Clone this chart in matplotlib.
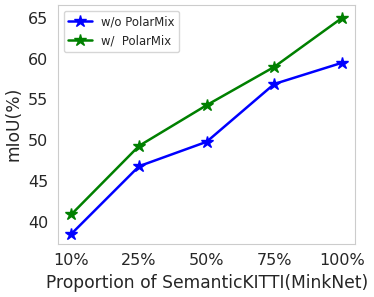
import matplotlib
matplotlib.use("Agg")
import matplotlib.pyplot as plt
import seaborn as sns

labels = ["10%", "25%", "50%", "75%", "100%"]
wo_polarmix = [38.5, 46.8, 49.8, 56.9, 59.5]
w_polarmix = [40.9, 49.3, 54.3, 59.0, 65.0]

sns.set_style("whitegrid")
plt.rcParams['font.family'] = ['DejaVu Sans']

fig, ax = plt.subplots(figsize=(3.74, 2.97), dpi=100)
x = range(len(labels))
ax.plot(x, wo_polarmix, color="blue", marker="*", markersize=9, linewidth=1.8, label="w/o PolarMix")
ax.plot(x, w_polarmix, color="green", marker="*", markersize=9, linewidth=1.8, label="w/  PolarMix")
ax.set_xticks(list(x))
ax.set_xticklabels(labels)
ax.set_xlim(-0.2, 4.2)
ax.set_ylim(37.3, 66.6)
ax.set_yticks([40, 45, 50, 55, 60, 65])
ax.grid(False)
ax.tick_params(labelsize=11.5)
ax.set_xlabel("Proportion of SemanticKITTI(MinkNet)", fontsize=12.3)
ax.set_ylabel("mIoU(%)", fontsize=12.3)
ax.legend(loc="upper left", fontsize=8.4)
fig.subplots_adjust(left=0.155, right=0.95, top=0.983, bottom=0.18)
fig.savefig("out.png")
